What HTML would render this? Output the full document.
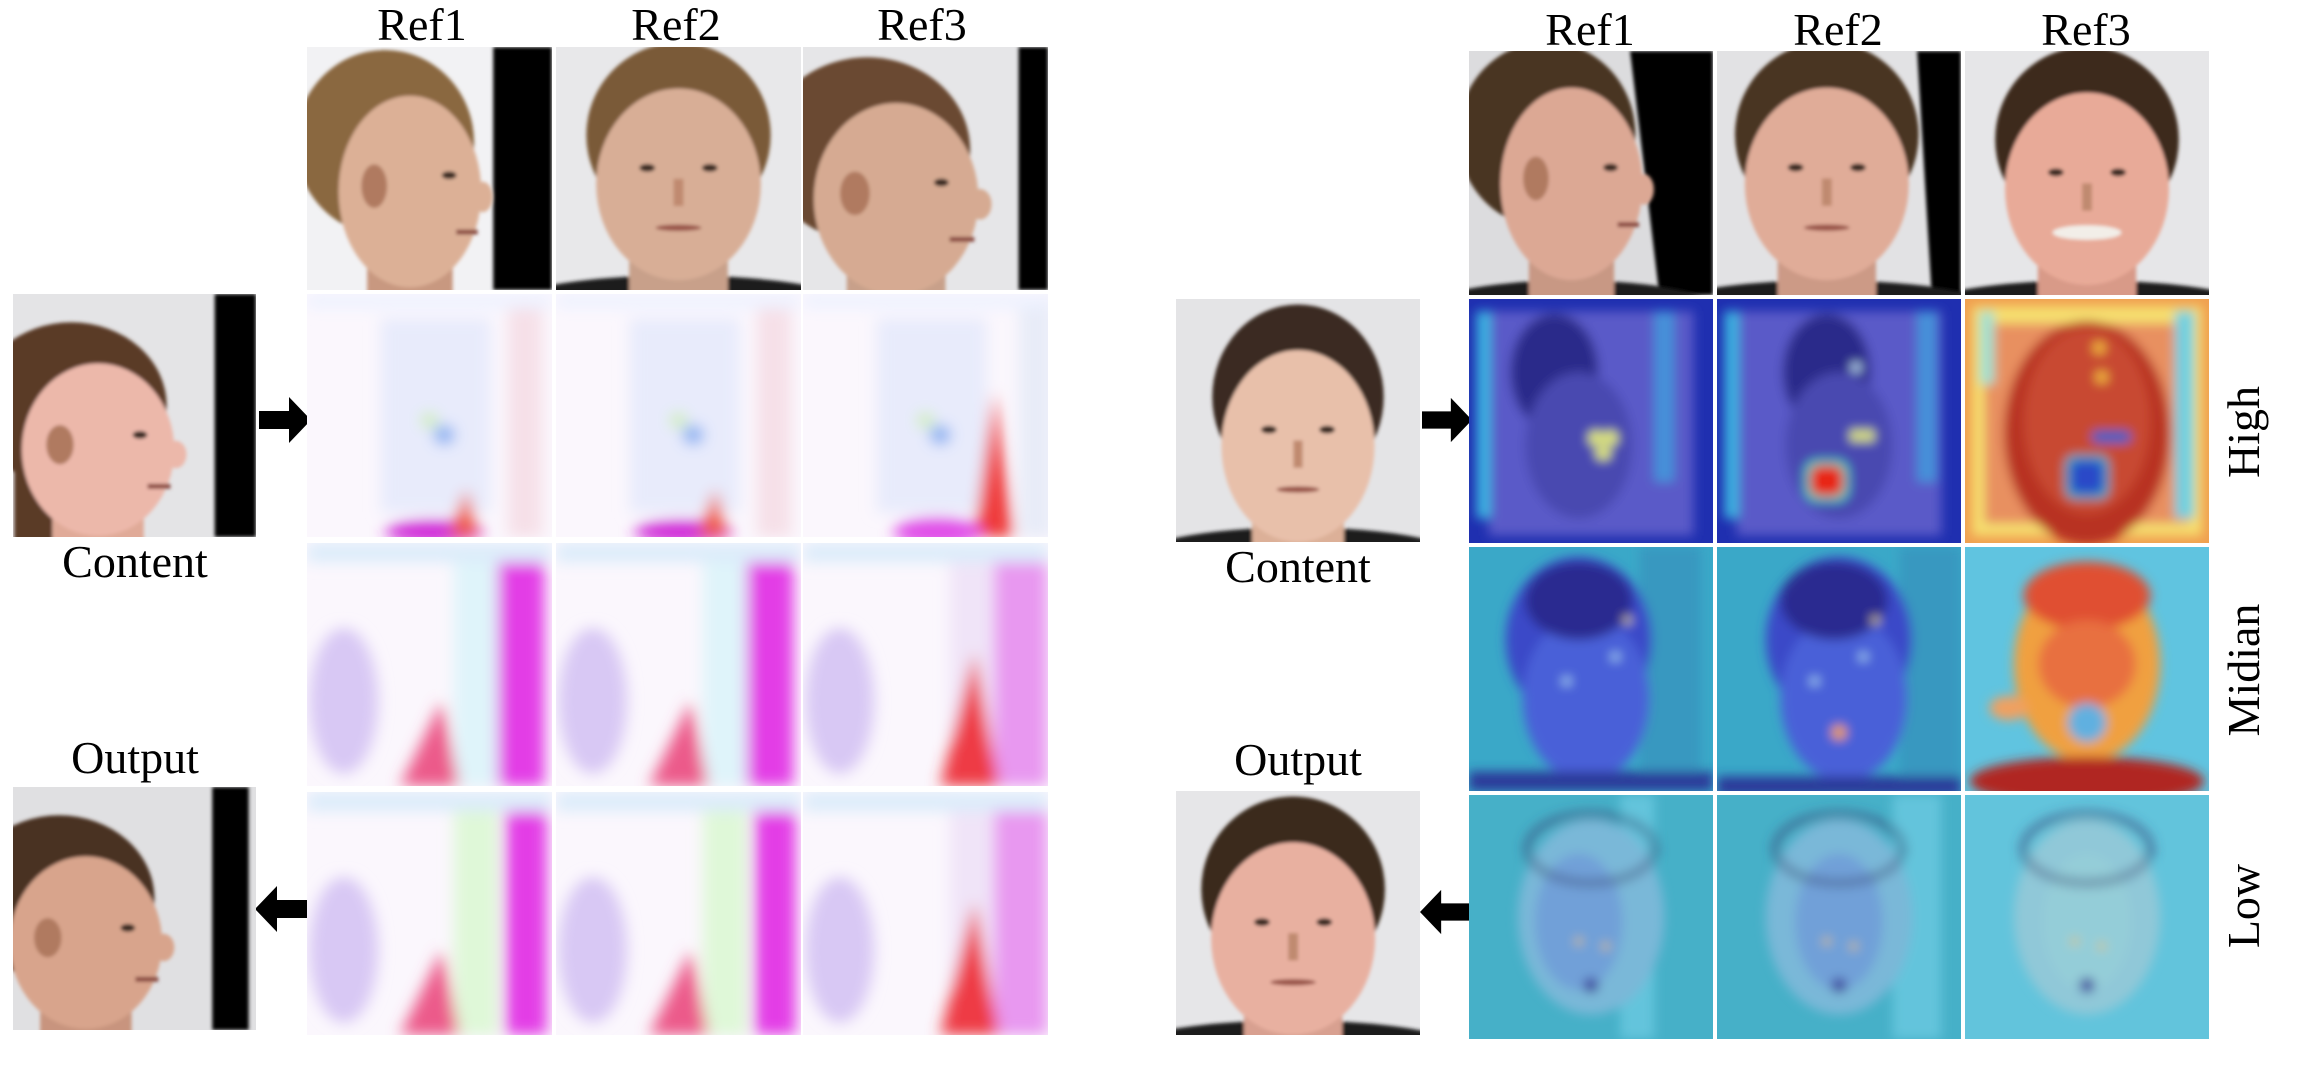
<!DOCTYPE html>
<html><head><meta charset="utf-8">
<style>
html,body{margin:0;padding:0;background:#fff;}
#root{position:relative;width:2308px;height:1072px;overflow:hidden;background:#fff;font-family:"Liberation Serif","Times New Roman",serif;color:#000;}
.t{position:absolute;}
.lbl{position:absolute;font-size:46px;line-height:1;white-space:nowrap;transform:translate(-50%,-50%);}
.rot{position:absolute;font-size:46px;line-height:1;white-space:nowrap;transform:translate(-50%,-50%) rotate(-90deg);}
svg{display:block;}
</style></head><body>
<div id="root">
  <div class="lbl" style="left:422px;top:25px">Ref1</div>
  <div class="lbl" style="left:676px;top:25px">Ref2</div>
  <div class="lbl" style="left:922px;top:25px">Ref3</div>
  <div class="lbl" style="left:135px;top:562px">Content</div>
  <div class="lbl" style="left:135px;top:758px">Output</div>
  <div class="lbl" style="left:1590px;top:30px">Ref1</div>
  <div class="lbl" style="left:1838px;top:30px">Ref2</div>
  <div class="lbl" style="left:2086px;top:30px">Ref3</div>
  <div class="lbl" style="left:1298px;top:567px">Content</div>
  <div class="lbl" style="left:1298px;top:760px">Output</div>
  <div class="rot" style="left:2244px;top:432px">High</div>
  <div class="rot" style="left:2244px;top:670px">Midian</div>
  <div class="rot" style="left:2244px;top:906px">Low</div>
  <svg class="t" style="left:259px;top:397px" width="52" height="46" viewBox="0 0 52 46"><polygon points="0,14 30,14 30,0 52,23 30,46 30,32 0,32" fill="#000"/></svg>
  <svg class="t" style="left:255px;top:886px" width="52" height="46" viewBox="0 0 52 46"><polygon points="52,14 22,14 22,0 0,23 22,46 22,32 52,32" fill="#000"/></svg>
  <svg class="t" style="left:1422px;top:397px" width="50" height="46" viewBox="0 0 52 46"><polygon points="0,14 30,14 30,0 52,23 30,46 30,32 0,32" fill="#000"/></svg>
  <svg class="t" style="left:1420px;top:889px" width="50" height="46" viewBox="0 0 52 46"><polygon points="52,14 22,14 22,0 0,23 22,46 22,32 52,32" fill="#000"/></svg>
</div>
<script>
const root=document.getElementById('root');
const NS='http://www.w3.org/2000/svg';
let uid=0;
function mk(name,x,y,w,h,inner){
  const s=document.createElementNS(NS,'svg');
  s.setAttribute('class','t');
  s.setAttribute('style','left:'+x+'px;top:'+y+'px');
  s.setAttribute('width',w);s.setAttribute('height',h);
  s.setAttribute('viewBox','0 0 100 100');
  s.setAttribute('preserveAspectRatio','none');
  
  
  s.innerHTML=inner;
  root.appendChild(s);
}
function blur(v){uid++;return ['<defs><filter id="b'+uid+'" x="-20%" y="-20%" width="140%" height="140%"><feGaussianBlur stdDeviation="'+v+'"/></filter></defs>','filter="url(#b'+uid+')"'];}
function face(o){
  o.rx*=1.12;o.ry*=1.12;
  const [d,f]=blur(0.8);
  let s=d+'<rect width="100" height="100" fill="'+o.bg+'"/>';
  if(o.bar){const b=o.bar;s+='<polygon points="'+(b[0]+b[2])+',0 '+b[1]+',0 '+b[1]+',100 '+b[0]+',100" fill="#050505" '+f+'/>';}
  s+='<g '+f+'>';
  if(o.shirt) s+='<ellipse cx="'+o.cx+'" cy="108" rx="'+(o.rx*2.2)+'" ry="14" fill="#1a1a1a"/>';
  s+='<rect x="'+(o.cx-o.rx*0.6)+'" y="'+(o.cy+o.ry*0.5)+'" width="'+(o.rx*1.2)+'" height="40" fill="'+o.neck+'"/>';
  s+='<ellipse cx="'+(o.cx-(o.prof?o.rx*0.35:0))+'" cy="'+(o.cy-o.ry*0.35)+'" rx="'+(o.rx*(o.prof?1.25:1.12))+'" ry="'+(o.ry*0.85)+'" fill="'+o.hair+'"/>';
  if(o.longhair) s+='<rect x="'+(o.cx-o.rx*1.1)+'" y="'+(o.cy-o.ry*0.3)+'" width="'+(o.rx*0.5)+'" height="'+(o.ry*1.6)+'" fill="'+o.hair+'"/>';
  s+='<ellipse cx="'+o.cx+'" cy="'+(o.cy+o.ry*0.1)+'" rx="'+o.rx+'" ry="'+(o.ry*0.88)+'" fill="'+o.skin+'"/>';
  const ex=o.prof?o.cx+o.rx*0.55:o.cx;
  if(o.prof){
    s+='<ellipse cx="'+(o.cx-o.rx*0.5)+'" cy="'+(o.cy+o.ry*0.05)+'" rx="'+(o.rx*0.18)+'" ry="'+(o.ry*0.2)+'" fill="#b07a60"/>';
    s+='<ellipse cx="'+(ex)+'" cy="'+(o.cy-o.ry*0.05)+'" rx="3" ry="1.6" fill="#3a2a20"/>';
    s+='<ellipse cx="'+(o.cx+o.rx*1.02)+'" cy="'+(o.cy+o.ry*0.15)+'" rx="'+(o.rx*0.14)+'" ry="'+(o.ry*0.14)+'" fill="'+o.skin+'"/>';
    s+='<rect x="'+(o.cx+o.rx*0.65)+'" y="'+(o.cy+o.ry*0.45)+'" width="'+(o.rx*0.3)+'" height="2" fill="#8a4a40"/>';
  }else{
    s+='<ellipse cx="'+(ex-o.rx*0.38)+'" cy="'+(o.cy-o.ry*0.05)+'" rx="3.2" ry="1.6" fill="#3a2a20"/>';
    s+='<ellipse cx="'+(ex+o.rx*0.38)+'" cy="'+(o.cy-o.ry*0.05)+'" rx="3.2" ry="1.6" fill="#3a2a20"/>';
    s+='<rect x="'+(ex-o.rx*0.06)+'" y="'+(o.cy+o.ry*0.05)+'" width="'+(o.rx*0.12)+'" height="'+(o.ry*0.25)+'" fill="#c08a70"/>';
    s+='<ellipse cx="'+ex+'" cy="'+(o.cy+o.ry*0.5)+'" rx="'+(o.rx*(o.smile?0.42:0.28))+'" ry="'+(o.smile?3:1.3)+'" fill="'+(o.smile?'#f2eee8':'#9a5548')+'"/>';
  }
  s+='</g>';
  return s;
}
function flow(kind,col){
  const [d,f]=blur(3);
  let s=d+'<rect width="100" height="100" fill="#fbf7fd"/><g '+f+'>';
  if(kind===1){
    s+='<rect x="30" y="10" width="45" height="80" fill="#e4e8fb" opacity="0.8"/>';
    s+='<rect x="'+(col==2?88:82)+'" y="0" width="14" height="100" fill="'+(col==2?'#e8ecf8':'#f6e0e8')+'"/>';
    s+='<circle cx="56" cy="58" r="4" fill="#7aa8f0"/><circle cx="50" cy="52" r="3" fill="#c9f0a0"/>';
    if(col==2){s+='<polygon points="70,100 78,40 86,100" fill="#ef3a3a"/><ellipse cx="55" cy="98" rx="18" ry="6" fill="#e050e8"/>';}
    else{s+='<ellipse cx="52" cy="98" rx="20" ry="5" fill="#d02ed8"/><polygon points="58,100 65,80 70,100" fill="#ef5a40"/>';}
    s+='<rect x="0" y="0" width="100" height="6" fill="#eef2ff"/>';
  }else{
    const tex=kind===3;
    s+='<ellipse cx="15" cy="65" rx="14" ry="30" fill="#d8c8f4"/>';
    s+='<rect x="60" y="0" width="18" height="100" fill="'+(col==2?'#f0e4f8':(tex?'#dff8d8':'#dff4fa'))+'"/>';
    if(col==2){s+='<rect x="78" y="0" width="22" height="100" fill="#e898f0"/><polygon points="56,100 70,45 80,100" fill="#ee3a44"/>';}
    else{s+='<rect x="'+(tex?81:78)+'" y="0" width="'+(tex?17:19)+'" height="100" fill="#e33ee6"/><polygon points="38,100 55,65 62,100" fill="#ec5a8a"/>';}
    s+='<rect x="0" y="0" width="100" height="8" fill="#dcecfa"/>';
  }
  s+='</g>';
  return s;
}
function heat(level,col){
  const [d,f]=blur(2.2);
  let s=d;
  if(level==='high'){
    if(col<2){
      s+='<rect width="100" height="100" fill="#1f2fb0"/><g '+f+'>';
      s+='<rect x="8" y="5" width="84" height="92" fill="#5a5ac8"/>';
      s+='<rect x="3" y="5" width="6" height="85" fill="#3ab0e0"/><rect x="'+(col?82:76)+'" y="5" width="8" height="70" fill="#3aa8e0" opacity="0.7"/>';
      s+='<ellipse cx="'+(col?45:35)+'" cy="30" rx="18" ry="24" fill="#2a2a8a"/>';
      s+='<ellipse cx="'+(col?50:45)+'" cy="60" rx="22" ry="30" fill="#4a4ab0"/>';
      if(col==0){s+='<circle cx="52" cy="57" r="3" fill="#e8f070"/><circle cx="58" cy="57" r="3" fill="#e8f070"/><circle cx="55" cy="63" r="3" fill="#e8f070"/>';}
      else{s+='<rect x="36" y="66" width="18" height="17" rx="5" fill="#30d8c0"/><rect x="38" y="68" width="14" height="13" rx="4" fill="#e82818"/><circle cx="57" cy="56" r="2.5" fill="#e8f070"/><circle cx="62" cy="56" r="2.5" fill="#e8f070"/><circle cx="57" cy="28" r="2" fill="#c8e8ff"/>';}
      s+='</g>';
    }else{
      s+='<rect width="100" height="100" fill="#f0a050"/><g '+f+'>';
      s+='<rect x="3" y="3" width="94" height="94" fill="#f6e070"/><rect x="8" y="10" width="84" height="82" fill="#e89060"/>';
      s+='<rect x="86" y="5" width="8" height="85" fill="#70d0e0"/><rect x="6" y="5" width="6" height="30" fill="#a0e0d0"/>';
      s+='<ellipse cx="50" cy="55" rx="34" ry="46" fill="#b83020"/>';
      s+='<ellipse cx="50" cy="50" rx="26" ry="38" fill="#c84830"/>';
      s+='<rect x="41" y="64" width="18" height="18" rx="4" fill="#30b0c0"/><rect x="43" y="66" width="14" height="14" rx="3" fill="#2a48c8"/>';
      s+='<rect x="52" y="54" width="16" height="5" rx="2" fill="#2a60c8"/>';
      s+='<circle cx="55" cy="20" r="2.5" fill="#f8c040"/><circle cx="56" cy="32" r="2.5" fill="#f8c040"/>';
      s+='</g>';
    }
  }else if(level==='mid'){
    s+='<rect width="100" height="100" fill="'+(col==2?'#60c4e0':'#3aa8c8')+'"/><g '+f+'>';
    if(col<2){
      s+='<rect x="'+(col?75:70)+'" y="0" width="25" height="100" fill="#3898c0"/>';
      s+='<ellipse cx="'+(col?50:45)+'" cy="38" rx="30" ry="34" fill="#3a48c8"/>';
      s+='<ellipse cx="'+(col?52:48)+'" cy="62" rx="26" ry="34" fill="#4a60d8"/>';
      s+='<ellipse cx="'+(col?48:45)+'" cy="22" rx="22" ry="16" fill="#2a2a90"/>';
      s+='<rect x="0" y="'+(col?94:92)+'" width="100" height="8" fill="#2a3a9a"/>';
      if(col==1) s+='<circle cx="50" cy="76" r="3" fill="#f0a030"/>';
      s+='<circle cx="60" cy="45" r="1.5" fill="#c0f0ff"/><circle cx="40" cy="55" r="1.5" fill="#c0f0ff"/><circle cx="65" cy="30" r="1.5" fill="#f0e080"/>';
    }else{
      s+='<ellipse cx="50" cy="48" rx="30" ry="40" fill="#f0a040"/>';
      s+='<ellipse cx="50" cy="20" rx="26" ry="14" fill="#e05030"/>';
      s+='<ellipse cx="50" cy="48" rx="20" ry="18" fill="#e87040"/>';
      s+='<ellipse cx="50" cy="96" rx="48" ry="10" fill="#b02820"/>';
      s+='<ellipse cx="50" cy="72" rx="8" ry="8" fill="#60b0e0"/>';
      s+='<ellipse cx="18" cy="66" rx="8" ry="5" fill="#f0a060"/>';
    }
    s+='</g>';
  }else{
    s+='<rect width="100" height="100" fill="'+(col==2?'#62c4dc':'#46b0c8')+'"/><g '+f+'>';
    if(col<2) s+='<rect x="'+(col?72:62)+'" y="0" width="'+(col?20:14)+'" height="100" fill="#64c4dc"/>';
    s+='<ellipse cx="50" cy="50" rx="30" ry="40" fill="'+(col==2?'#90c8d8':'#7ab8d8')+'"/>';
    s+='<ellipse cx="'+(col==0?45:50)+'" cy="52" rx="18" ry="28" fill="'+(col==2?'#98d0d8':'#6a90d8')+'" opacity="0.6"/>';
    s+='<ellipse cx="50" cy="22" rx="26" ry="14" fill="none" stroke="#3a4a7a" stroke-width="4" stroke-dasharray="2 2"/>';
    s+='<circle cx="50" cy="78" r="3" fill="#3a3a9a"/><circle cx="45" cy="60" r="1.5" fill="#e0c050"/><circle cx="56" cy="62" r="1.5" fill="#e0c050"/>';
    s+='</g>';
  }
  return s;
}
const LX=[307,556,803], LY=[47,294,543,792], LW=245, LH=243;
const RX=[1469,1717,1965], RY=[51,299,547,795], RW=244, RH=244;
mk('left-ref1-image',LX[0],LY[0],LW,LH,face({bg:'#f2f2f4',bar:[76,100,0],cx:42,cy:55,rx:26,ry:40,hair:'#8a6840',skin:'#dcb096',neck:'#c89880',prof:1}));
mk('left-ref2-image',LX[1],LY[0],LW,LH,face({bg:'#e8e8ea',cx:50,cy:52,rx:30,ry:40,hair:'#7a5a38',skin:'#d8ae96',neck:'#c8a08a',shirt:1}));
mk('left-ref3-image',LX[2],LY[0],LW,LH,face({bg:'#e6e6e8',bar:[88,100,0],cx:38,cy:58,rx:30,ry:40,hair:'#6a4a30',skin:'#d6aa92',neck:'#c8a08a',prof:1}));
mk('left-content-image',13,LY[1],243,LH,face({bg:'#e4e4e6',bar:[83,100,0],cx:35,cy:60,rx:28,ry:36,hair:'#5a3a28',skin:'#ecb8aa',neck:'#e0aa98',prof:1,longhair:1}));
mk('left-output-image',13,787,243,LH,face({bg:'#e0e0e2',bar:[82,97,0],cx:30,cy:60,rx:28,ry:36,hair:'#4a3020',skin:'#d8a48c',neck:'#c8947e',prof:1}));
for(let r=0;r<3;r++)for(let c=0;c<3;c++){
  mk('left-flow-map-r'+(r+1)+'-ref'+(c+1),LX[c],LY[r+1],LW,LH,flow(r+1,c));
}
mk('right-ref1-image',RX[0],RY[0],RW,RH,face({bg:'#dcdcde',bar:[78,100,-12],cx:42,cy:50,rx:26,ry:40,hair:'#4a3422',skin:'#dca894',neck:'#c89884',prof:1,shirt:1}));
mk('right-ref2-image',RX[1],RY[0],RW,RH,face({bg:'#e2e2e4',bar:[88,100,-6],cx:45,cy:50,rx:30,ry:40,hair:'#4a3422',skin:'#e0ac98',neck:'#cc9a86',shirt:1}));
mk('right-ref3-image',RX[2],RY[0],RW,RH,face({bg:'#e6e6e8',cx:50,cy:52,rx:30,ry:40,hair:'#3e2c1e',skin:'#e8aa98',neck:'#d89a88',shirt:1,smile:1}));
mk('right-content-image',1176,299,244,243,face({bg:'#e4e4e6',cx:50,cy:56,rx:28,ry:40,hair:'#3a2a20',skin:'#e8c0aa',neck:'#dcb098',shirt:1}));
mk('right-output-image',1176,791,244,244,face({bg:'#e6e6e8',cx:48,cy:56,rx:30,ry:40,hair:'#3a2a1e',skin:'#e8b0a0',neck:'#d8a090',shirt:1}));
const levels=['high','mid','low'], lname=['high','midian','low'];
for(let r=0;r<3;r++)for(let c=0;c<3;c++){
  mk('heatmap-'+lname[r]+'-ref'+(c+1),RX[c],RY[r+1],RW,RH,heat(levels[r],c));
}
</script>
</body></html>
